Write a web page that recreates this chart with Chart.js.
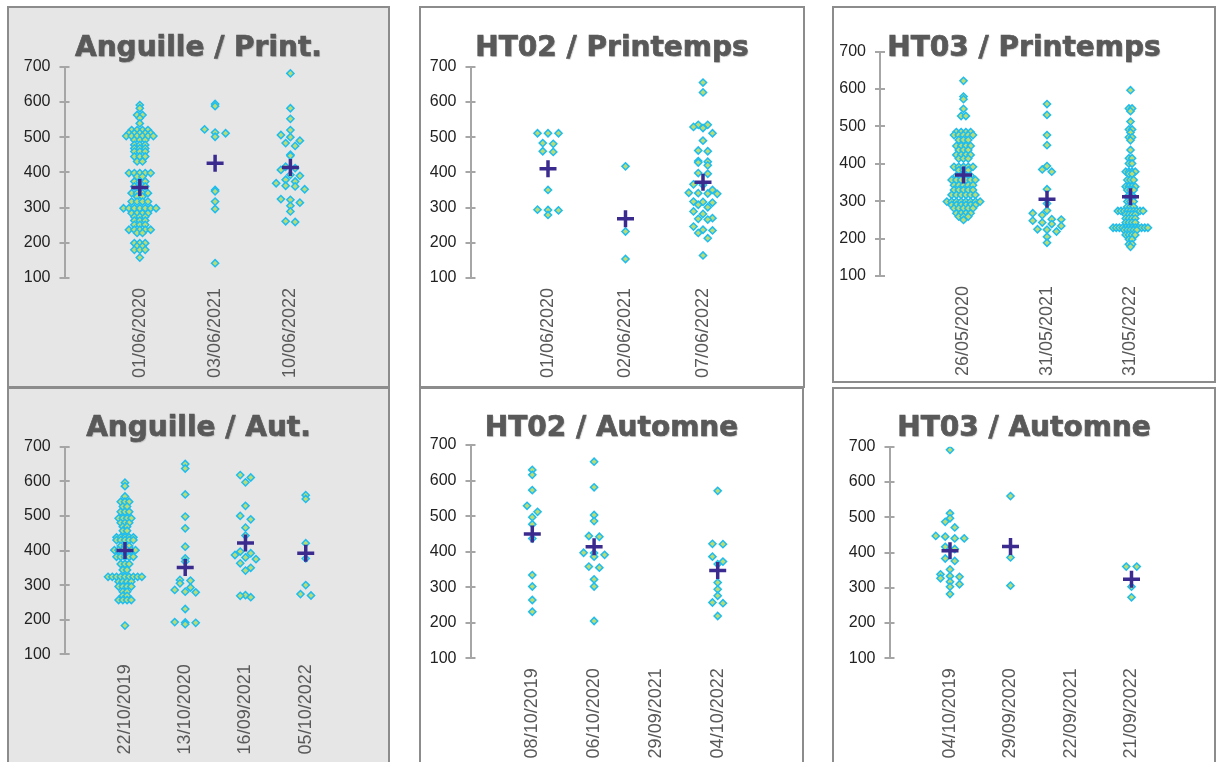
<!DOCTYPE html>
<html>
<head>
<meta charset="utf-8">
<script src="https://cdn.jsdelivr.net/npm/chart.js@4"></script>
<style>
  body { margin: 0; background: #fff; width: 1219px; height: 762px; overflow: hidden; position: relative; }
  .panel { position: absolute; box-sizing: border-box; border: 2px solid #8c8c8c; background: #fff; overflow: hidden; }
  .panel.grey { background: #e6e6e6; }
  .panel canvas { position: absolute; left: 0; top: 0; }
  .title { position: absolute; left: 0; right: 0; text-align: center; font-family: "DejaVu Sans", sans-serif;
           font-weight: bold; font-size: 28px; line-height: 34px; color: #595959; white-space: nowrap;
           -webkit-text-stroke: 0.7px #595959; text-shadow: 1px 1px 1px rgba(0,0,0,0.2); z-index: 2; }
</style>
</head>
<body>

<div class="panel grey" id="p1" style="left:7px;top:6px;width:383px;height:382px"><canvas id="c1"></canvas><div class="title" style="top:22px">Anguille / Print.</div></div>
<div class="panel" id="p2" style="left:419px;top:6px;width:386px;height:382px"><canvas id="c2"></canvas><div class="title" style="top:22px">HT02 / Printemps</div></div>
<div class="panel" id="p3" style="left:832px;top:6px;width:384px;height:377px"><canvas id="c3"></canvas><div class="title" style="top:22px">HT03 / Printemps</div></div>
<div class="panel grey" id="p4" style="left:7px;top:387px;width:383px;height:380px"><canvas id="c4"></canvas><div class="title" style="top:21px">Anguille / Aut.</div></div>
<div class="panel" id="p5" style="left:419px;top:387px;width:385px;height:380px"><canvas id="c5"></canvas><div class="title" style="top:21px">HT02 / Automne</div></div>
<div class="panel" id="p6" style="left:832px;top:387px;width:384px;height:380px"><canvas id="c6"></canvas><div class="title" style="top:21px">HT03 / Automne</div></div>

<script>
// lengths (mm), one list per sampling date
const angPrintDates = ["01/06/2020", "03/06/2021", "10/06/2022"];
const angPrintLengths = [
  [591, 582, 563, 563, 554, 539, 520, 520, 520, 520, 511, 511, 511, 511, 511, 503, 503, 503, 503, 503, 503,
   492, 492, 492, 478, 478, 478, 468, 468, 468, 459, 459, 459, 445, 445, 445, 431, 431,
   398, 398, 398, 398, 398, 388, 388, 374, 374, 374, 360, 360, 360, 341, 341, 341, 341, 331, 331,
   317, 317, 317, 317, 298, 298, 298, 298, 298, 298, 298, 284, 284, 284, 284, 274, 274, 274,
   263, 263, 263, 251, 251, 251, 237, 237, 237, 237, 237, 228, 228, 199, 199, 199, 190, 190, 180, 180, 180, 158],
  [594, 588, 522, 513, 511, 501, 350, 346, 317, 296, 142],
  [681, 582, 552, 520, 506, 500, 490, 483, 475, 450, 447, 416, 412, 407, 393, 390, 379, 374, 369, 362,
   360, 352, 324, 322, 314, 305, 289, 261, 259]
];
const angPrintMeans = [357, 426, 414];

const ht02PrintDates = ["01/06/2020", "02/06/2021", "07/06/2022"];
const ht02PrintLengths = [
  [511, 511, 511, 483, 481, 460, 458, 350, 294, 293, 292, 279],
  [417, 232, 154],
  [655, 627, 535, 535, 529, 526, 511, 490, 462, 460, 432, 430, 428, 420, 398, 396, 366, 364, 350, 342,
   341, 340, 339, 317, 316, 314, 308, 301, 289, 282, 270, 268, 266, 246, 237, 235, 228, 213, 164]
];
const ht02PrintMeans = [410, 268, 372];

const ht03PrintDates = ["26/05/2020", "31/05/2021", "31/05/2022"];
const ht03PrintLengths = [
  [622, 580, 573, 547, 528, 528, 485, 485, 485, 485, 477, 477, 477, 477, 477, 464, 464, 464,
   448, 448, 448, 448, 437, 437, 437, 424, 424, 424, 424, 414, 414, 414, 392, 392, 392, 392, 392,
   383, 383, 383, 368, 368, 368, 368, 357, 357, 357, 357, 357, 357, 343, 343, 343, 343, 343,
   330, 330, 330, 330, 330, 317, 317, 317, 317, 317, 317, 299, 299, 299, 299, 299, 299, 299, 299,
   290, 290, 290, 290, 290, 290, 281, 281, 281, 281, 281, 268, 268, 268, 268, 259, 259, 259, 250],
  [560, 531, 477, 450, 394, 385, 379, 332, 294, 275, 268, 263, 252, 251, 248, 243, 239, 234, 225, 224, 219, 205, 189],
  [597, 548, 548, 541, 513, 492, 492, 484, 471, 471, 463, 437, 415, 415, 401, 401, 379, 379, 379, 379, 373, 373,
   357, 357, 357, 339, 339, 339, 339, 330, 330, 330, 312, 312, 312, 299, 299, 299, 285, 285, 285,
   274, 274, 274, 274, 274, 274, 274, 274, 274, 264, 264, 264, 264, 254, 254, 254, 254, 243, 243, 243, 243,
   229, 229, 229, 229, 229, 229, 229, 229, 229, 229, 229, 229, 223, 223, 223, 223, 223,
   210, 210, 210, 210, 198, 198, 185, 185, 178]
];
const ht03PrintMeans = [370, 305, 312];

const angAutDates = ["22/10/2019", "13/10/2020", "16/09/2021", "05/10/2022"];
const angAutLengths = [
  [596, 586, 556, 541, 541, 541, 527, 527, 512, 512, 512, 493, 493, 493, 493, 480, 480, 480, 469, 469, 457, 457,
   438, 438, 438, 438, 438, 430, 430, 430, 430, 430, 413, 413, 413, 401, 401, 401, 401, 401, 401,
   382, 382, 382, 382, 382, 361, 361, 361, 344, 344, 324, 324, 324, 324, 324, 324, 324, 324, 324,
   310, 310, 310, 310, 296, 296, 296, 296, 281, 281, 269, 269, 257, 257, 257, 257, 183],
  [650, 637, 562, 498, 464, 411, 377, 368, 315, 313, 305, 293, 286, 281, 279, 231, 193, 192, 191, 187],
  [618, 611, 597, 529, 500, 490, 466, 443, 397, 392, 387, 380, 375, 363, 350, 342, 271, 269, 265],
  [560, 549, 421, 377, 300, 274, 270]
];
const angAutMeans = [400, 351, 422, 392];

const ht02AutDates = ["08/10/2019", "06/10/2020", "29/09/2021", "04/10/2022"];
const ht02AutLengths = [
  [630, 616, 573, 529, 512, 497, 477, 437, 334, 302, 264, 231],
  [653, 581, 503, 486, 444, 442, 397, 396, 391, 386, 358, 355, 322, 302, 205],
  [],
  [571, 422, 421, 386, 372, 365, 313, 294, 276, 257, 255, 219]
];
const ht02AutMeans = [450, 414, null, 347];

const ht03AutDates = ["04/10/2019", "29/09/2020", "22/09/2021", "21/09/2022"];
const ht03AutLengths = [
  [691, 511, 497, 487, 471, 447, 445, 440, 440, 416, 410, 383, 376, 352, 338, 333, 331, 327, 317, 310, 303, 282],
  [560, 386, 306],
  [],
  [360, 360, 303, 273]
];
const ht03AutMeans = [405, 417, null, 324];

const yMin = 100;
const yMax = 700;
const yStep = 100;

// spread the points of one date sideways, row by row (beeswarm)
const swarm = (values, pos, unitPx) => {
  const binW = values.length >= 45 ? 10 : 20;
  const rows = new Map();
  values.forEach((v) => {
    const k = Math.round(v / binW);
    if (!rows.has(k)) rows.set(k, []);
    rows.get(k).push(v);
  });
  let widest = 1;
  rows.forEach((r) => { widest = Math.max(widest, r.length); });
  const stepPx = Math.min(10.5, 38 / widest);
  const pts = [];
  rows.forEach((r) => {
    r.forEach((v, i) => {
      const off = (i - (r.length - 1) / 2) * stepPx;
      pts.push({ x: pos + off / unitPx, y: v });
    });
  });
  return pts;
};

// inner half of the cross tick marks on the y axis
const crossTicks = {
  id: "crossTicks",
  afterDraw(chart) {
    const ys = chart.scales.y;
    const ctx = chart.ctx;
    ctx.save();
    ctx.strokeStyle = "#a6a6a6";
    ctx.lineWidth = 2;
    ys.ticks.forEach((t) => {
      const py = Math.round(ys.getPixelForValue(t.value));
      ctx.beginPath();
      ctx.moveTo(chart.chartArea.left, py);
      ctx.lineTo(chart.chartArea.left + 5, py);
      ctx.stroke();
    });
    ctx.restore();
  }
};

const drawPanel = (id, w, h, area, dates, lengths, means) => {
  const canvas = document.getElementById(id);
  canvas.width = w;
  canvas.height = h;
  const n = dates.length;
  const unitPx = (area.right - area.left) / (n + 1);
  let points = [];
  lengths.forEach((vals, i) => {
    points = points.concat(swarm(vals, i + 1, unitPx));
  });
  const meanPts = [];
  means.forEach((m, i) => {
    if (m !== null) meanPts.push({ x: i + 1, y: m });
  });
  const xH = h - area.bottom - 4;

  new Chart(canvas, {
    type: "scatter",
    data: {
      datasets: [
        {
          data: meanPts,
          pointStyle: "cross",
          pointRadius: 8.5,
          pointBorderWidth: 3.5,
          borderColor: "#3b2b8f",
          backgroundColor: "#3b2b8f",
          order: 0
        },
        {
          data: points,
          pointStyle: "rectRot",
          pointRadius: 3.6,
          pointBorderWidth: 1.5,
          borderColor: "#1fbdee",
          backgroundColor: "#bcdc72",
          order: 1
        }
      ]
    },
    options: {
      responsive: false,
      animation: false,
      events: [],
      layout: { padding: { left: 0, top: area.top, right: w - area.right, bottom: 4 } },
      plugins: { legend: { display: false }, tooltip: { enabled: false }, title: { display: false } },
      scales: {
        x: {
          type: "linear",
          min: 0,
          max: n + 1,
          afterFit: (s) => {
            s.height = xH;
            s.paddingLeft = 0;
            s.paddingRight = 0;
          },
          grid: { display: false, drawTicks: false },
          border: { display: false },
          ticks: {
            stepSize: 1,
            autoSkip: false,
            minRotation: 90,
            maxRotation: 90,
            padding: 10,
            color: "#595959",
            font: { family: "Liberation Sans", size: 18 },
            callback: (v) => dates[v - 1] || ""
          }
        },
        y: {
          min: yMin,
          max: yMax,
          afterFit: (s) => { s.width = area.left; },
          grid: { drawOnChartArea: false, drawTicks: true, tickLength: 5, color: "#a6a6a6", lineWidth: 2 },
          border: { color: "#a6a6a6", width: 2 },
          ticks: {
            stepSize: yStep,
            padding: 9,
            color: "#222222",
            font: { family: "Liberation Sans", size: 16 }
          }
        }
      }
    },
    plugins: [crossTicks]
  });
};

drawPanel("c1", 379, 378, { left: 55.5, right: 356.7, top: 58.7, bottom: 270 }, angPrintDates, angPrintLengths, angPrintMeans);
drawPanel("c2", 382, 378, { left: 49.5, right: 359.5, top: 58.7, bottom: 270 }, ht02PrintDates, ht02PrintLengths, ht02PrintMeans);
// canvas a bit wider than the panel, the panel clips it
drawPanel("c3", 402, 373, { left: 46, right: 380, top: 43.7, bottom: 268 }, ht03PrintDates, ht03PrintLengths, ht03PrintMeans);
drawPanel("c4", 379, 376, { left: 55.7, right: 357, top: 57.7, bottom: 265.3 }, angAutDates, angAutLengths, angAutMeans);
drawPanel("c5", 381, 376, { left: 49.5, right: 358.5, top: 56, bottom: 269.3 }, ht02AutDates, ht02AutLengths, ht02AutMeans);
drawPanel("c6", 380, 376, { left: 55.5, right: 358, top: 57.7, bottom: 269.3 }, ht03AutDates, ht03AutLengths, ht03AutMeans);
</script>
</body>
</html>
